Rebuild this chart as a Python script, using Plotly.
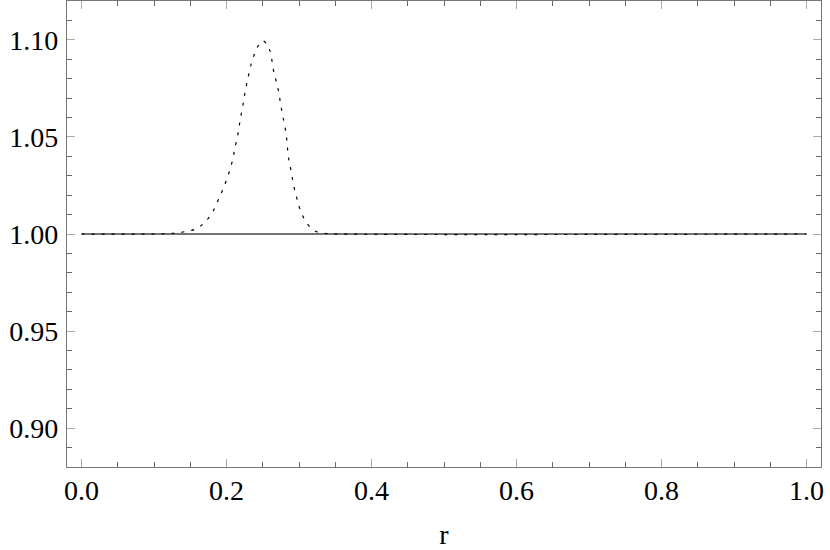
import plotly.graph_objects as go

# Baseline solid line
base_r = [0.0, 1.0]
base_v = [1.0, 1.0]

# Dotted bump curve
bump_r = [0.0, 0.10, 0.120, 0.131, 0.145, 0.159, 0.170, 0.180, 0.188, 0.195, 0.202, 0.208,
          0.212, 0.216, 0.219, 0.223, 0.226, 0.230, 0.234, 0.239, 0.244, 0.250,
          0.255, 0.260, 0.265, 0.271, 0.276, 0.282, 0.285, 0.287, 0.290, 0.292,
          0.296, 0.299, 0.304, 0.311, 0.321, 0.335, 0.36, 1.0]
bump_v = [1.0, 1.0, 1.0002, 1.0005, 1.0014, 1.0028, 1.006, 1.0108, 1.017, 1.023, 1.030, 1.0375,
          1.045, 1.052, 1.059, 1.067, 1.074, 1.081, 1.0875, 1.093, 1.097, 1.0995,
          1.098, 1.0943, 1.084, 1.075, 1.064, 1.052, 1.041, 1.036, 1.031, 1.026,
          1.020, 1.0155, 1.0103, 1.0055, 1.0017, 1.0004, 1.0, 1.0]

x_ticks = [0.0, 0.2, 0.4, 0.6, 0.8, 1.0]
x_labels = ["0.0", "0.2", "0.4", "0.6", "0.8", "1.0"]
y_ticks = [0.90, 0.95, 1.00, 1.05, 1.10]
y_labels = ["0.90", "0.95", "1.00", "1.05", "1.10"]

fig = go.Figure()
fig.add_trace(go.Scatter(x=base_r, y=base_v, mode="lines",
                         line=dict(color="#444444", width=1.6), showlegend=False))
fig.add_trace(go.Scatter(x=bump_r, y=bump_v, mode="lines", line_shape="spline",
                         line=dict(color="black", width=1.2, dash="3px,7px"), showlegend=False))

font = dict(family="Liberation Serif", size=28, color="black")
axis_common = dict(showline=True, linecolor="#777777", linewidth=1.2, mirror="ticks",
                   ticks="inside", ticklen=8, tickcolor="#aaaaaa", tickwidth=1.2,
                   showgrid=False, zeroline=False, tickfont=font, automargin=False)

fig.update_xaxes(range=[-0.02, 1.02], tickvals=x_ticks, ticktext=x_labels,
                 minor=dict(dtick=0.05, tick0=0, ticks="inside", ticklen=5,
                            tickcolor="#666666", tickwidth=1, showgrid=False),
                 title=dict(text="r", font=font, standoff=22),
                 ticklabelstandoff=-2, **axis_common)
fig.update_yaxes(range=[0.88, 1.12], tickvals=y_ticks, ticktext=y_labels,
                 minor=dict(dtick=0.01, tick0=0.9, ticks="inside", ticklen=5,
                            tickcolor="#666666", tickwidth=1, showgrid=False),
                 ticklabelstandoff=2, **axis_common)

fig.update_layout(width=830, height=550, margin=dict(l=67, r=9, t=1, b=83),
                  plot_bgcolor="white", paper_bgcolor="white", font=font)

fig.write_html("out.html", config={"displayModeBar": False},
               post_script="document.body.style.margin='0px';")
